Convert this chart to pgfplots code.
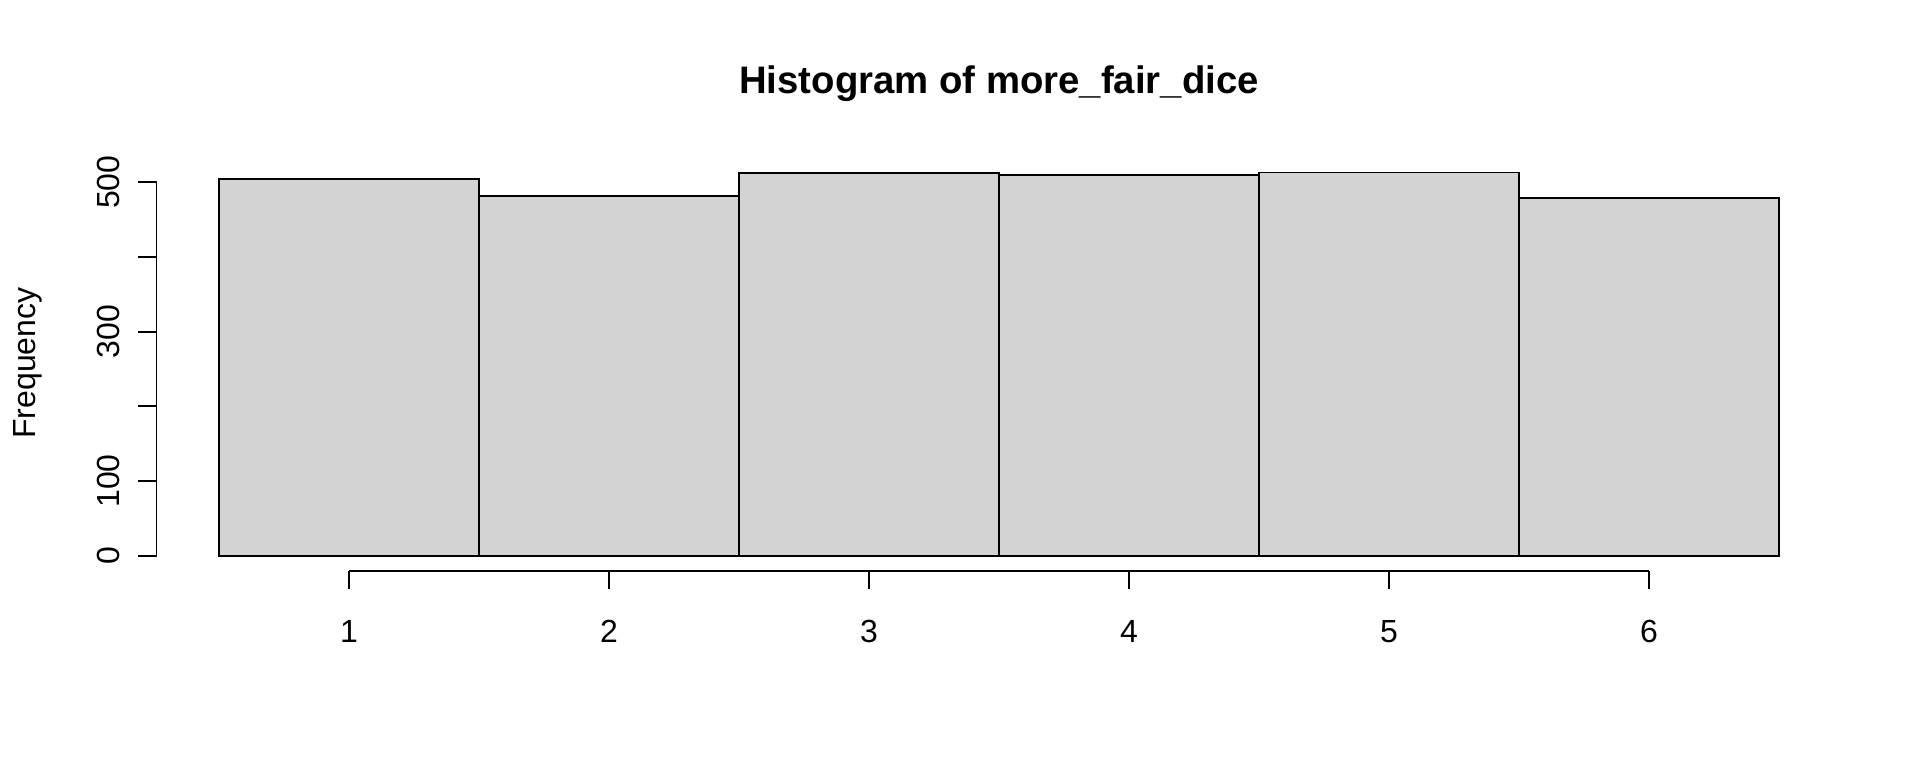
\documentclass[border=0pt]{standalone}
\usepackage{fontspec}
\setmainfont{Liberation Sans}
\usepackage{pgfplots}
\pgfplotsset{compat=1.18}
\definecolor{histGray}{HTML}{D3D3D3}

\begin{document}
\begin{tikzpicture}
    % page frame: 1920 x 768 px, 1 px = 0.1 mm
    \useasboundingbox (0,0) rectangle (192mm,76.8mm);

    \begin{axis}[
        at={(15.66mm,19.7mm)},
        anchor=south west,
        scale only axis,
        width=168.48mm, height=41.45mm,
        xmin=0.26, xmax=6.74,
        ymin=-20.56, ymax=534.56,
        axis x line*=bottom,
        axis y line*=left,
        axis line style={draw=none},
        clip=false,
        tick align=outside,
        major tick length=1.85mm,
        tick style={black, line width=0.5pt},
        xtick={1,2,3,4,5,6},
        xticklabels={1,2,3,4,5,6},
        ytick={0,100,200,300,400,500},
        yticklabels={0,100,,300,,500},
        xticklabel style={font=\fontsize{9.1}{11}\selectfont, anchor=base, inner sep=0pt, yshift=-5.27mm},
        yticklabel style={font=\fontsize{9.1}{11}\selectfont, xshift=-1.85mm, rotate=90, anchor=base, inner sep=0pt},
    ]
        \addplot[ybar interval, fill=histGray, draw=black, line width=0.5pt] coordinates {
            (0.5,504) (1.5,482) (2.5,512) (3.5,510) (4.5,513) (5.5,479) (6.5,479)
        };

        % R style axis lines, only over the tick range
        \draw[line width=0.5pt] (axis cs:1,-20.56) -- (axis cs:6,-20.56);
        \draw[line width=0.5pt] (axis cs:0.26,0) -- (axis cs:0.26,500);
    \end{axis}

    \node[anchor=base, inner sep=0pt, font=\bfseries\fontsize{10.9}{13}\selectfont]
        at (99.9mm,67.4mm) {Histogram of more\_fair\_dice};
    \node[anchor=base, inner sep=0pt, rotate=90, font=\fontsize{9.1}{11}\selectfont]
        at (3.58mm,40.5mm) {Frequency};
\end{tikzpicture}
\end{document}
